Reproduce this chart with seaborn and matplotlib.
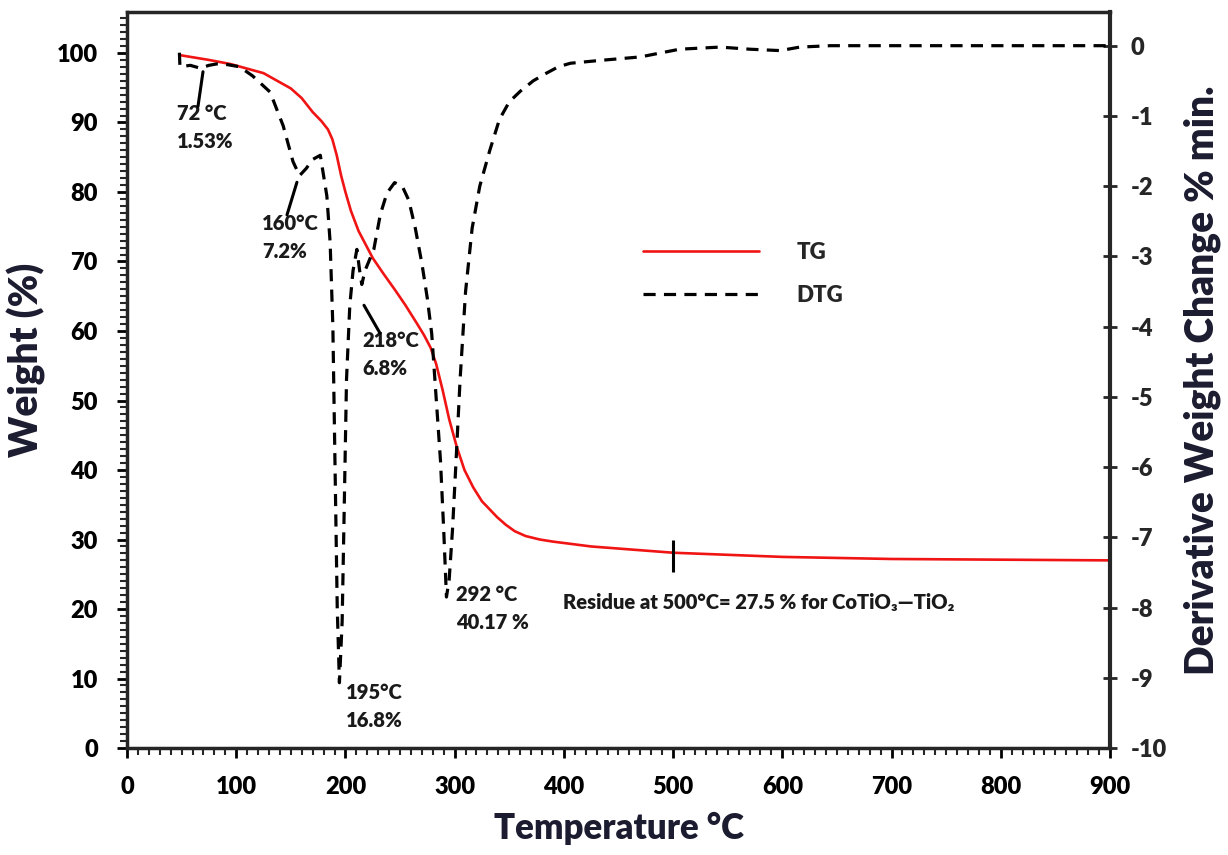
import numpy as np
import pandas as pd
import matplotlib
matplotlib.use('Agg')
import matplotlib.pyplot as plt
from matplotlib.ticker import MultipleLocator
import seaborn as sns

# TG curve (weight %, left axis)
tg_temp = [48, 75, 95, 125, 150, 160, 170, 178, 184, 188, 192, 196, 200, 205, 212, 225, 235,
           245, 255, 265, 272, 278, 283, 289, 295, 302, 309, 317, 325, 339, 347, 355, 365,
           378, 390, 400, 425, 450, 475, 500, 550, 600, 700, 800, 900]
tg_weight = [99.7, 99.0, 98.4, 97.1, 94.9, 93.5, 91.5, 90.2, 89.0, 87.6, 85.3, 82.4, 80.0,
             77.3, 74.4, 70.5, 68.2, 66.0, 63.7, 61.2, 59.4, 57.6, 55.3, 51.5, 47.3, 43.3,
             40.0, 37.5, 35.5, 33.2, 32.1, 31.2, 30.5, 30.0, 29.7, 29.5, 29.0, 28.7, 28.4,
             28.1, 27.8, 27.5, 27.2, 27.1, 27.0]

# DTG curve (derivative weight change, right axis)
dtg_temp = [48, 48.5, 58, 67, 75, 82, 92, 103, 115, 131, 143, 152, 158, 164, 170, 177,
            183, 186, 188.5, 190.5, 192.5, 194.5, 197, 199, 201, 204, 207, 210.5, 213, 215,
            218, 222, 226, 232, 238, 245, 252, 258, 264, 270, 275, 279, 283, 287, 290, 292.5,
            295, 298, 301, 305, 310, 316, 323, 332, 341, 350, 360, 372, 383, 395, 406, 433,
            470, 506, 543, 570, 598, 616, 644, 700, 800, 900]
dtg_value = [-0.1, -0.3, -0.28, -0.32, -0.28, -0.26, -0.27, -0.30, -0.43, -0.66, -1.14, -1.65,
             -1.85, -1.75, -1.62, -1.56, -2.14, -2.8, -4.0, -6.0, -8.0, -9.07, -8.2, -6.5,
             -4.75, -3.7, -3.2, -2.9, -3.2, -3.4, -3.2, -3.05, -2.9, -2.4, -2.1, -1.95, -2.0,
             -2.2, -2.6, -3.1, -3.6, -4.1, -5.0, -5.9, -6.9, -7.85, -7.6, -6.9, -6.0, -4.75,
             -3.5, -2.6, -2.0, -1.5, -1.05, -0.8, -0.65, -0.5, -0.40, -0.30, -0.25, -0.21,
             -0.16, -0.05, -0.02, -0.05, -0.07, -0.02, 0.0, 0.0, 0.0, 0.0]

# peak annotations: label, text anchor (temp, weight), leader line start/end
peak_labels = ['72 °C\n1.53%', '160°C\n7.2%', '218°C\n6.8%', '195°C\n16.8%', '292 °C\n40.17 %']
peak_text_x = [45.8, 123.6, 215.2, 200.5, 301]
peak_text_y = [92.6, 76.8, 60.0, 9.4, 23.5]
leader_from = [(69.6, 97.3), (155.6, 81.4), (217, 63.7), None, None]
leader_to = [(65, 92.3), (146.5, 76.7), (231.6, 59.7), None, None]

residue_temp = 500
residue_pct = 27.5

tg_df = pd.DataFrame({'temp': tg_temp, 'weight': tg_weight})
dtg_df = pd.DataFrame({'temp': dtg_temp, 'dtg': dtg_value})

sns.set_style('ticks')
plt.rcParams['font.family'] = ['Lato', 'DejaVu Sans']
plt.rcParams['font.weight'] = 'heavy'
plt.rcParams['axes.unicode_minus'] = False

label_color = '#1c1c30'
fw = 'heavy'

fig = plt.figure(figsize=(12.28, 8.55), dpi=100)
ax = fig.add_axes([0.1034, 0.1251, 0.8005, 0.8609])
ax2 = ax.twinx()

sns.lineplot(data=tg_df, x='temp', y='weight', ax=ax, color='#f01414', lw=1.9,
             sort=False, label='TG', legend=False)
sns.lineplot(data=dtg_df, x='temp', y='dtg', ax=ax2, color='black', lw=2.3,
             sort=False, label='DTG', legend=False, dashes=False)
ax2.lines[0].set_dashes((3.8, 2.6))

ax.set_xlim(0, 900)
ax.set_ylim(0, 105.9)
ax2.set_ylim(-10, 0.48)

ax.set_xticks(range(0, 901, 100))
ax.xaxis.set_minor_locator(MultipleLocator(10))
ax.set_yticks(range(0, 101, 10))
ax.yaxis.set_minor_locator(MultipleLocator(1))
ax2.set_yticks(range(-10, 1))

ax.tick_params(axis='both', which='major', direction='out', length=7, width=2,
               labelsize=17, pad=14, colors='black')
ax.tick_params(axis='x', which='major', pad=13)
ax.tick_params(axis='both', which='minor', direction='out', length=5, width=1.5)
ax2.tick_params(axis='y', which='major', direction='inout', length=10, width=2,
                labelsize=17, pad=10)

for t in ax.get_xticklabels() + ax.get_yticklabels() + ax2.get_yticklabels():
    t.set_fontweight(fw)

for side in ['left', 'bottom', 'top']:
    ax.spines[side].set_linewidth(2.5)
ax2.spines['right'].set_linewidth(3)
for side in ['left', 'bottom', 'top']:
    ax2.spines[side].set_visible(False)

ax.set_xlabel('Temperature °C', fontsize=25, fontweight=fw, color=label_color, labelpad=10)
ax.set_ylabel('Weight (%)', fontsize=28, fontweight=fw, color=label_color)
ax.yaxis.set_label_coords(-0.082, 0.527)
ax2.set_ylabel('Derivative Weight Change % min.', fontsize=28, fontweight=fw,
               color=label_color, labelpad=12)

# peak annotations
for lab, tx, ty, p0, p1 in zip(peak_labels, peak_text_x, peak_text_y, leader_from, leader_to):
    ax.text(tx, ty, lab, fontsize=14.5, fontweight=fw, ha='left', va='top',
            linespacing=1.55, color='#1a1a1a')
    if p0 is not None:
        ax.annotate('', xy=p0, xytext=p1,
                    arrowprops=dict(arrowstyle='-', color='black', lw=2.2,
                                    shrinkA=0, shrinkB=0))

ax.vlines(residue_temp, residue_pct - 2.2, residue_pct + 2.4, color='black', lw=2.2)
ax.text(399, 20.9, 'Residue at 500°C= 27.5 % for CoTiO₃—TiO₂', fontsize=14.5,
        fontweight=fw, ha='left', va='center', color='#1a1a1a')

handles = ax.get_lines()[:1] + ax2.get_lines()[:1]
leg = ax.legend(handles, ['TG', 'DTG'], loc='upper left', bbox_to_anchor=(0.505, 0.715),
                frameon=False, handlelength=5.2, handletextpad=1.7, labelspacing=1.0,
                prop={'size': 16, 'weight': fw})

fig.savefig('out.png', dpi=100)
